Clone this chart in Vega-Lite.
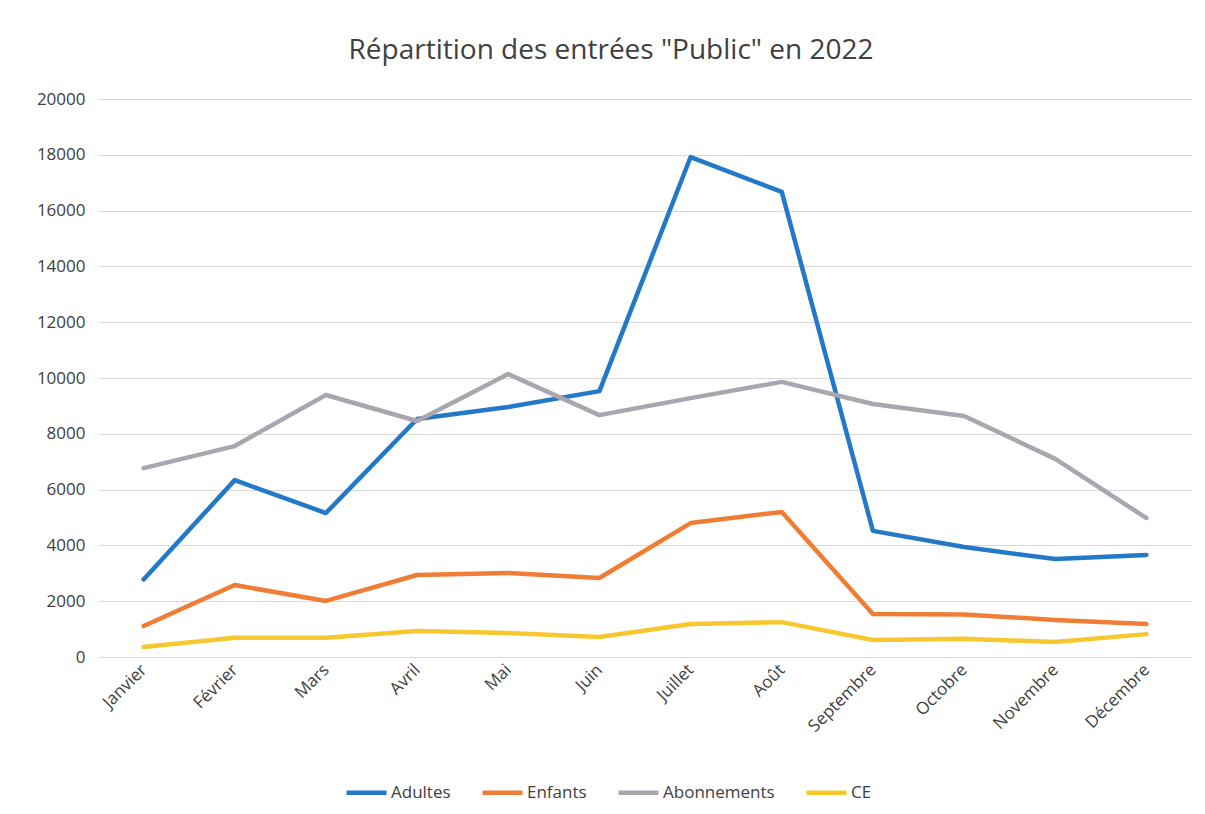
{
  "$schema": "https://vega.github.io/schema/vega-lite/v6.json",
  "autosize": "none",
  "width": 1094,
  "height": 558,
  "padding": {"left": 98, "top": 99, "right": 13, "bottom": 157},
  "background": "white",
  "view": {"stroke": null},
  "title": {
    "text": "Répartition des entrées \"Public\" en 2022",
    "font": "Open Sans",
    "fontSize": 28,
    "fontWeight": "normal",
    "color": "#404040",
    "anchor": "middle",
    "dx": -34,
    "offset": 25
  },
  "data": {
    "values": [
      {"mois": "Janvier", "serie": "Adultes", "v": 2780},
      {"mois": "Février", "serie": "Adultes", "v": 6340},
      {"mois": "Mars", "serie": "Adultes", "v": 5160},
      {"mois": "Avril", "serie": "Adultes", "v": 8530},
      {"mois": "Mai", "serie": "Adultes", "v": 8960},
      {"mois": "Juin", "serie": "Adultes", "v": 9530},
      {"mois": "Juillet", "serie": "Adultes", "v": 17920},
      {"mois": "Août", "serie": "Adultes", "v": 16670},
      {"mois": "Septembre", "serie": "Adultes", "v": 4520},
      {"mois": "Octobre", "serie": "Adultes", "v": 3940},
      {"mois": "Novembre", "serie": "Adultes", "v": 3510},
      {"mois": "Décembre", "serie": "Adultes", "v": 3660},
      {"mois": "Janvier", "serie": "Enfants", "v": 1110},
      {"mois": "Février", "serie": "Enfants", "v": 2580},
      {"mois": "Mars", "serie": "Enfants", "v": 2010},
      {"mois": "Avril", "serie": "Enfants", "v": 2940},
      {"mois": "Mai", "serie": "Enfants", "v": 3010},
      {"mois": "Juin", "serie": "Enfants", "v": 2830},
      {"mois": "Juillet", "serie": "Enfants", "v": 4800},
      {"mois": "Août", "serie": "Enfants", "v": 5200},
      {"mois": "Septembre", "serie": "Enfants", "v": 1540},
      {"mois": "Octobre", "serie": "Enfants", "v": 1520},
      {"mois": "Novembre", "serie": "Enfants", "v": 1330},
      {"mois": "Décembre", "serie": "Enfants", "v": 1180},
      {"mois": "Janvier", "serie": "Abonnements", "v": 6770},
      {"mois": "Février", "serie": "Abonnements", "v": 7560},
      {"mois": "Mars", "serie": "Abonnements", "v": 9390},
      {"mois": "Avril", "serie": "Abonnements", "v": 8460},
      {"mois": "Mai", "serie": "Abonnements", "v": 10140},
      {"mois": "Juin", "serie": "Abonnements", "v": 8670},
      {"mois": "Juillet", "serie": "Abonnements", "v": 9280},
      {"mois": "Août", "serie": "Abonnements", "v": 9860},
      {"mois": "Septembre", "serie": "Abonnements", "v": 9070},
      {"mois": "Octobre", "serie": "Abonnements", "v": 8640},
      {"mois": "Novembre", "serie": "Abonnements", "v": 7100},
      {"mois": "Décembre", "serie": "Abonnements", "v": 4980},
      {"mois": "Janvier", "serie": "CE", "v": 360},
      {"mois": "Février", "serie": "CE", "v": 690},
      {"mois": "Mars", "serie": "CE", "v": 690},
      {"mois": "Avril", "serie": "CE", "v": 930},
      {"mois": "Mai", "serie": "CE", "v": 860},
      {"mois": "Juin", "serie": "CE", "v": 720},
      {"mois": "Juillet", "serie": "CE", "v": 1180},
      {"mois": "Août", "serie": "CE", "v": 1250},
      {"mois": "Septembre", "serie": "CE", "v": 610},
      {"mois": "Octobre", "serie": "CE", "v": 650},
      {"mois": "Novembre", "serie": "CE", "v": 540},
      {"mois": "Décembre", "serie": "CE", "v": 820}
    ]
  },
  "mark": {"type": "line", "strokeWidth": 4.5, "strokeCap": "round", "strokeJoin": "round"},
  "encoding": {
    "x": {
      "field": "mois",
      "type": "nominal",
      "sort": null,
      "scale": {"type": "point", "padding": 0.5},
      "axis": {
        "title": null,
        "labelAngle": -45,
        "labelAlign": "right",
        "labelBaseline": "middle",
        "labelFont": "Open Sans",
        "labelFontSize": 17,
        "labelColor": "#404040",
        "labelPadding": 10,
        "ticks": false,
        "domain": false,
        "grid": false
      }
    },
    "y": {
      "field": "v",
      "type": "quantitative",
      "scale": {"domain": [0, 20000], "nice": false},
      "axis": {
        "title": null,
        "values": [0, 2000, 4000, 6000, 8000, 10000, 12000, 14000, 16000, 18000, 20000],
        "format": "d",
        "labelFont": "Open Sans",
        "labelFontSize": 17,
        "labelColor": "#404040",
        "labelPadding": 13,
        "ticks": false,
        "domain": false,
        "grid": true,
        "gridColor": "#d9d9d9",
        "gridWidth": 1.2
      }
    },
    "color": {
      "field": "serie",
      "type": "nominal",
      "sort": ["Adultes", "Enfants", "Abonnements", "CE"],
      "scale": {
        "domain": ["Adultes", "Enfants", "Abonnements", "CE"],
        "range": ["#2378C8", "#F07D35", "#A9A6B0", "#F7C72E"]
      },
      "legend": {
        "title": null,
        "orient": "none",
        "legendX": 246,
        "legendY": 671,
        "direction": "horizontal",
        "symbolType": "stroke",
        "symbolSize": 1600,
        "symbolStrokeWidth": 4.5,
        "labelFont": "Open Sans",
        "labelFontSize": 17,
        "labelColor": "#404040",
        "labelOffset": 2,
        "columnPadding": 22
      }
    }
  }
}
